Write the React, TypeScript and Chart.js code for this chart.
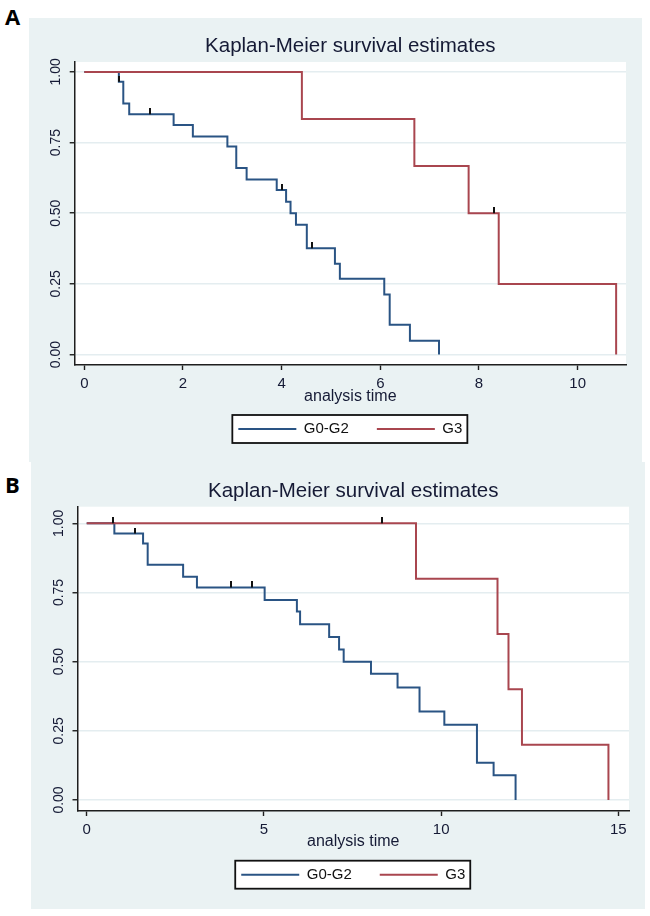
import React, { useEffect, useRef } from 'react';
import { Chart, registerables } from 'chart.js';

Chart.register(...registerables);

// ---------------- data ----------------
const titleText = 'Kaplan-Meier survival estimates';
const xAxisTitle = 'analysis time';
const seriesLabels = ['G0-G2', 'G3'];

const yTicks = [0, 0.25, 0.5, 0.75, 1];
const yTickLabels = ['0.00', '0.25', '0.50', '0.75', '1.00'];

// Panel A
const xTicksA = [0, 2, 4, 6, 8, 10];
const xTickLabelsA = ['0', '2', '4', '6', '8', '10'];
const timesA1 = [0, 0.70, 0.79, 0.91, 1.81, 2.20, 2.90, 3.08, 3.29, 3.90, 4.09, 4.18, 4.29, 4.51, 5.08, 5.18, 6.08, 6.19, 6.60, 7.19];
const survA1 = [1, 0.965, 0.888, 0.850, 0.812, 0.771, 0.736, 0.660, 0.619, 0.582, 0.541, 0.500, 0.459, 0.376, 0.321, 0.268, 0.212, 0.105, 0.049, 0];
const censorA1 = [0.71, 1.33, 4.00, 4.61];
const timesA2 = [0, 4.41, 6.69, 7.79, 8.40, 10.78];
const survA2 = [1, 0.833, 0.667, 0.500, 0.250, 0];
const censorA2 = [8.31];

// Panel B
const xTicksB = [0, 5, 10, 15];
const xTickLabelsB = ['0', '5', '10', '15'];
const timesB1 = [0, 0.78, 1.59, 1.72, 2.72, 3.11, 5.02, 5.93, 6.02, 6.84, 7.12, 7.25, 8.02, 8.77, 9.39, 10.09, 11.01, 11.48, 12.10];
const survB1 = [1, 0.963, 0.927, 0.850, 0.807, 0.768, 0.723, 0.681, 0.635, 0.589, 0.544, 0.500, 0.456, 0.407, 0.320, 0.272, 0.135, 0.089, 0];
const censorB1 = [0.73, 1.35, 4.08, 4.65];
const timesB2 = [0, 9.29, 11.59, 11.90, 12.28, 14.72];
const survB2 = [1, 0.8, 0.6, 0.4, 0.2, 0];
const censorB2 = [8.33];

// ---------------- styles / layout ----------------
const FONT = "'Liberation Sans', Arial, sans-serif";
const BG = '#EAF2F3';
const GRID = '#E4EDF0';
const AXIS = '#1e1e1e';
const TEXT = '#151a35';
const BLUE = '#2A5484';
const RED = '#A9464F';

Chart.defaults.font.family = FONT;

type Panel = {
  tag: string; tagTop: number;
  left: number; top: number; width: number; height: number;
  xMin: number; xMax: number; yMin: number; yMax: number;
  yAxisWidth: number; xAxisHeight: number; xTitlePadBottom: number;
  padBottom: number; titlePadTop: number; titlePadBottom: number;
};

const panelA: Panel = {
  tag: 'A', tagTop: 4.5,
  left: 29, top: 18, width: 613, height: 444,
  xMin: -0.195, xMax: 10.98, yMin: -0.037, yMax: 1.035,
  yAxisWidth: 45.7, xAxisHeight: 28.5, xTitlePadBottom: -13.1,
  padBottom: 15.5, titlePadTop: 15.7, titlePadBottom: 3.7,
};

const panelB: Panel = {
  tag: 'B', tagTop: 473,
  left: 31, top: 462, width: 614, height: 447,
  xMin: -0.26, xMax: 15.3, yMin: -0.0398, yMax: 1.06,
  yAxisWidth: 46.5, xAxisHeight: 28.2, xTitlePadBottom: -12.1,
  padBottom: 16.8, titlePadTop: 17.4, titlePadBottom: 2.7,
};

type Series = { label: string; times: number[]; surv: number[]; censor: number[]; color: string };

const seriesA: Series[] = [
  { label: seriesLabels[0], times: timesA1, surv: survA1, censor: censorA1, color: BLUE },
  { label: seriesLabels[1], times: timesA2, surv: survA2, censor: censorA2, color: RED },
];
const seriesB: Series[] = [
  { label: seriesLabels[0], times: timesB1, surv: survB1, censor: censorB1, color: BLUE },
  { label: seriesLabels[1], times: timesB2, surv: survB2, censor: censorB2, color: RED },
];

function stepAt(times: number[], surv: number[], t: number) {
  let v = surv[0];
  for (let i = 0; i < times.length; i++) if (times[i] <= t) v = surv[i];
  return v;
}

const bgPlugin = {
  id: 'stataBg',
  beforeDraw(chart: any) {
    const { ctx, chartArea: a } = chart;
    ctx.save();
    ctx.fillStyle = '#ffffff';
    ctx.fillRect(a.left, a.top, a.right - a.left, a.bottom - a.top);
    const lg = chart.legend;
    if (lg && lg.legendHitBoxes && lg.legendHitBoxes.length) {
      const hb = lg.legendHitBoxes;
      const l = Math.min(...hb.map((h: any) => h.left)) - 6;
      const r = Math.max(...hb.map((h: any) => h.left + h.width)) + 5;
      const cy = hb[0].top + hb[0].height / 2;
      ctx.fillStyle = '#ffffff';
      ctx.fillRect(l, cy - 14, r - l, 28);
      ctx.lineWidth = 1.8;
      ctx.strokeStyle = '#111111';
      ctx.strokeRect(l, cy - 14, r - l, 28);
    }
    ctx.restore();
  },
};

function KMChart({ panel, series, xTicks, xTickLabels }: { panel: Panel; series: Series[]; xTicks: number[]; xTickLabels: string[] }) {
  const ref = useRef<HTMLCanvasElement>(null);
  useEffect(() => {
    const canvas = ref.current;
    if (!canvas) return;
    const marker = document.createElement('canvas');
    marker.width = 2;
    marker.height = 12;
    const mctx = marker.getContext('2d');
    if (mctx) {
      mctx.fillStyle = '#111111';
      mctx.fillRect(0, 0, 2, 6);
    }
    const lineSets = series.map((s, i) => ({
      label: s.label,
      data: s.times.map((t, j) => ({ x: t, y: s.surv[j] })),
      borderColor: s.color,
      backgroundColor: s.color,
      borderWidth: 2,
      pointRadius: 0,
      pointHoverRadius: 0,
      pointBorderColor: s.color,
      pointBorderWidth: 2,
      stepped: true,
      fill: false,
      tension: 0,
      order: 2 - i,
    }));
    const censorSets = series.map((s) => ({
      label: s.label + ' censored',
      data: s.censor.map((t) => ({ x: t, y: stepAt(s.times, s.surv, t) })),
      showLine: false,
      pointStyle: marker as any,
      pointRadius: 3,
      pointHoverRadius: 3,
      borderColor: '#111111',
      backgroundColor: '#111111',
      order: 0,
    }));
    const chart = new Chart(canvas, {
      type: 'line',
      data: { datasets: [...lineSets, ...censorSets] as any },
      plugins: [bgPlugin],
      options: {
        animation: false,
        responsive: false,
        events: [],
        layout: { padding: { left: 0, right: 16, top: 0, bottom: panel.padBottom } },
        scales: {
          x: {
            type: 'linear',
            min: panel.xMin,
            max: panel.xMax,
            afterBuildTicks: (s: any) => { s.ticks = xTicks.map((v) => ({ value: v })); },
            afterFit: (s: any) => { s.height = panel.xAxisHeight; },
            ticks: {
              callback: (_v: any, i: number) => xTickLabels[i],
              font: { size: 15 }, color: TEXT, padding: 5, maxRotation: 0, minRotation: 0, autoSkip: false,
            },
            grid: { drawOnChartArea: false, drawTicks: true, tickLength: 5, tickColor: AXIS, tickWidth: 1.4 },
            border: { display: true, color: AXIS, width: 1.5 },
            title: { display: true, text: xAxisTitle, font: { size: 16 }, color: TEXT, padding: { top: 0, bottom: panel.xTitlePadBottom } },
          },
          y: {
            type: 'linear',
            min: panel.yMin,
            max: panel.yMax,
            afterBuildTicks: (s: any) => { s.ticks = yTicks.map((v) => ({ value: v })); },
            afterFit: (s: any) => { s.width = panel.yAxisWidth; },
            ticks: {
              callback: (_v: any, i: number) => yTickLabels[i],
              font: { size: 14 }, color: TEXT, padding: 0, minRotation: 90, maxRotation: 90, crossAlign: 'center', autoSkip: false,
            },
            grid: { color: GRID, lineWidth: 1.5, drawTicks: true, tickLength: 5, tickColor: AXIS, tickWidth: 1.4 },
            border: { display: true, color: AXIS, width: 1.5 },
          },
        },
        plugins: {
          title: {
            display: true, text: titleText, color: TEXT, fullSize: false,
            font: { size: 20.5, weight: 'normal' },
            padding: { top: panel.titlePadTop, bottom: panel.titlePadBottom },
          },
          legend: {
            display: true, position: 'bottom', fullSize: false,
            labels: {
              usePointStyle: true, pointStyle: 'line', pointStyleWidth: 58,
              font: { size: 15 }, color: '#111111', padding: 28,
              filter: (item: any) => item.datasetIndex < series.length,
              sort: (a: any, b: any) => a.datasetIndex - b.datasetIndex,
            },
          },
          tooltip: { enabled: false },
        },
      } as any,
    });
    return () => chart.destroy();
  }, [panel, series, xTicks, xTickLabels]);

  return (
    <>
      <div style={{ position: 'absolute', left: 5, top: panel.tagTop, fontFamily: "'Open Sans', sans-serif", fontWeight: 700, fontSize: 22, lineHeight: '22px', color: '#000' }}>
        {panel.tag}
      </div>
      <div style={{ position: 'absolute', left: panel.left, top: panel.top, width: panel.width, height: panel.height, background: BG }}>
        <canvas ref={ref} width={panel.width} height={panel.height} style={{ display: 'block', width: panel.width, height: panel.height }} />
      </div>
    </>
  );
}

export default function App() {
  return (
    <div style={{ position: 'absolute', left: 0, top: 0, width: 650, height: 916, background: '#ffffff', overflow: 'hidden' }}>
      <KMChart panel={panelA} series={seriesA} xTicks={xTicksA} xTickLabels={xTickLabelsA} />
      <KMChart panel={panelB} series={seriesB} xTicks={xTicksB} xTickLabels={xTickLabelsB} />
    </div>
  );
}
